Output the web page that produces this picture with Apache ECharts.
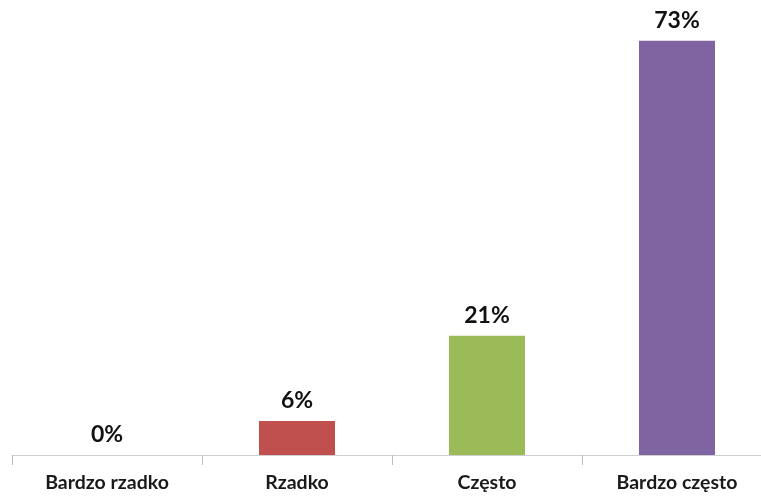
<!DOCTYPE html>
<html>
<head>
<meta charset="utf-8">
<script src="https://cdn.jsdelivr.net/npm/echarts@6/dist/echarts.min.js"></script>
<style>
  html, body { margin: 0; padding: 0; background: #fff; }
  #chart-container { width: 761px; height: 497px; }
</style>
</head>
<body>
<div id="chart-container"></div>
<script>
var categories = ['Bardzo rzadko', 'Rzadko', 'Często', 'Bardzo często'];
var values = [0, 6, 21, 73];
var colors = ['#4f81bd', '#c0504d', '#9bbb59', '#8064a2'];

var dom = document.getElementById('chart-container');
var myChart = echarts.init(dom, null, { renderer: 'canvas' });

var option = {
  animation: false,
  grid: { left: 12, width: 760, top: 1, height: 454, outerBoundsMode: 'none', containLabel: false },
  xAxis: {
    type: 'category',
    data: categories,
    axisLine: { lineStyle: { color: '#cfcfcf', width: 1 } },
    axisTick: { show: true, length: 10, lineStyle: { color: '#bdbdbd', width: 1 } },
    axisLabel: {
      margin: 18,
      fontFamily: 'Lato',
      fontWeight: 'bold',
      fontSize: 19.5,
      color: '#1a1a1a'
    }
  },
  yAxis: {
    type: 'value',
    min: 0,
    max: 80,
    show: false,
    splitLine: { show: false }
  },
  series: [
    {
      type: 'bar',
      barWidth: 76,
      data: values.map(function (v, i) {
        return { value: v, itemStyle: { color: colors[i] } };
      }),
      label: {
        show: true,
        position: 'top',
        distance: 9,
        formatter: '{c}%',
        fontFamily: 'Lato',
        fontWeight: 'bold',
        fontSize: 23,
        color: '#111'
      }
    }
  ]
};

myChart.setOption(option);
window.addEventListener('resize', myChart.resize);
</script>
</body>
</html>
